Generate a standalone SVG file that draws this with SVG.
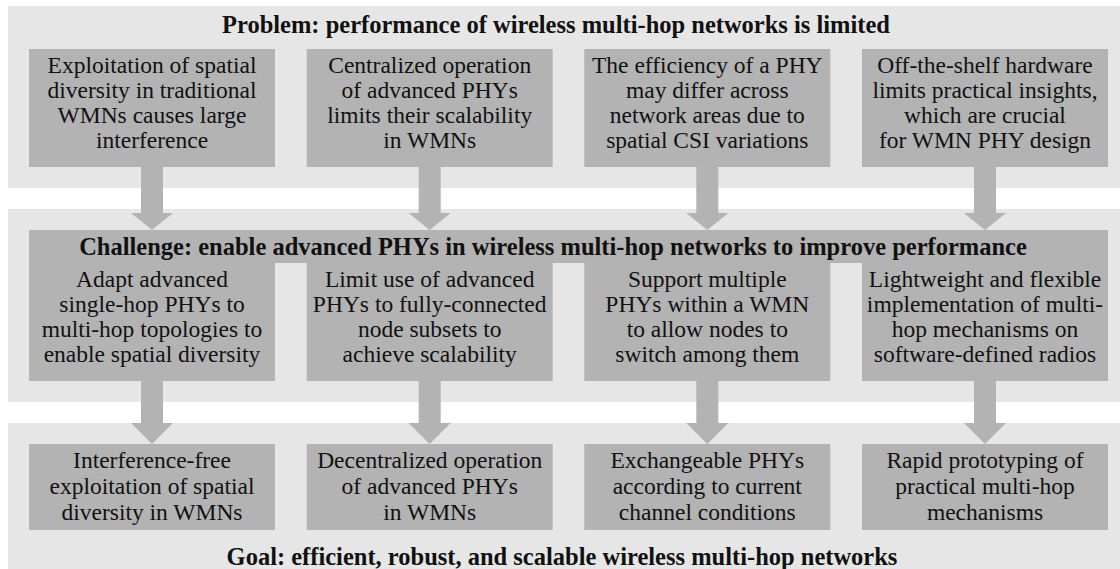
<svg xmlns="http://www.w3.org/2000/svg" width="1120" height="569" viewBox="0 0 1120 569">
<style>
.band{fill:#e6e6e6}
.box{fill:#b3b3b3}
.arr{fill:#b3b3b3}
.t{font-family:"Liberation Serif","Times New Roman",serif;font-size:23.5px;fill:#111;text-anchor:middle}
.h{font-family:"Liberation Serif","Times New Roman",serif;font-size:24.5px;font-weight:bold;fill:#111;text-anchor:middle}
</style>
<rect width="1120" height="569" fill="#ffffff"/>
<g id="bands">
<rect class="band" x="8" y="6" width="1112" height="182"/>
<rect class="band" x="8" y="209" width="1112" height="193"/>
<rect class="band" x="8" y="423" width="1112" height="146"/>
</g>
<g id="connectors">
<polygon class="arr" points="141,167 163,167 163,213 173,213 152,230 131,213 141,213"/>
<polygon class="arr" points="418.7,167 440.7,167 440.7,213 450.7,213 429.7,230 408.7,213 418.7,213"/>
<polygon class="arr" points="696.3,167 718.3,167 718.3,213 728.3,213 707.3,230 686.3,213 696.3,213"/>
<polygon class="arr" points="974,167 996,167 996,213 1006,213 985,230 964,213 974,213"/>
<polygon class="arr" points="141,381 163,381 163,423 173,423 152,444 131,423 141,423"/>
<polygon class="arr" points="418.7,381 440.7,381 440.7,423 450.7,423 429.7,444 408.7,423 418.7,423"/>
<polygon class="arr" points="696.3,381 718.3,381 718.3,423 728.3,423 707.3,444 686.3,423 696.3,423"/>
<polygon class="arr" points="974,381 996,381 996,423 1006,423 985,444 964,423 974,423"/>
</g>
<g id="problem-title"><text class="h" x="556" y="33">Problem: performance of wireless multi-hop networks is limited</text></g>
<g id="p1"><rect class="box" x="29" y="49" width="246" height="118"/>
<text class="t" x="152" y="73">Exploitation of spatial</text>
<text class="t" x="152" y="98">diversity in traditional</text>
<text class="t" x="152" y="123">WMNs causes large</text>
<text class="t" x="152" y="148">interference</text></g>
<g id="p2"><rect class="box" x="306.7" y="49" width="246" height="118"/>
<text class="t" x="429.7" y="73">Centralized operation</text>
<text class="t" x="429.7" y="98">of advanced PHYs</text>
<text class="t" x="429.7" y="123">limits their scalability</text>
<text class="t" x="429.7" y="148">in WMNs</text></g>
<g id="p3"><rect class="box" x="584.3" y="49" width="246" height="118"/>
<text class="t" x="707.3" y="73">The efficiency of a PHY</text>
<text class="t" x="707.3" y="98">may differ across</text>
<text class="t" x="707.3" y="123">network areas due to</text>
<text class="t" x="707.3" y="148">spatial CSI variations</text></g>
<g id="p4"><rect class="box" x="862" y="49" width="246" height="118"/>
<text class="t" x="985" y="73">Off-the-shelf hardware</text>
<text class="t" x="985" y="98">limits practical insights,</text>
<text class="t" x="985" y="123">which are crucial</text>
<text class="t" x="985" y="148">for WMN PHY design</text></g>
<g id="challenge-title"><rect class="box" x="29" y="230" width="1079" height="33"/>
<text class="h" x="553" y="255">Challenge: enable advanced PHYs in wireless multi-hop networks to improve performance</text></g>
<g id="c1"><rect class="box" x="29" y="262" width="246" height="119"/>
<text class="t" x="152" y="287">Adapt advanced</text>
<text class="t" x="152" y="312">single-hop PHYs to</text>
<text class="t" x="152" y="337">multi-hop topologies to</text>
<text class="t" x="152" y="362">enable spatial diversity</text></g>
<g id="c2"><rect class="box" x="306.7" y="262" width="246" height="119"/>
<text class="t" x="429.7" y="287">Limit use of advanced</text>
<text class="t" x="429.7" y="312">PHYs to fully-connected</text>
<text class="t" x="429.7" y="337">node subsets to</text>
<text class="t" x="429.7" y="362">achieve scalability</text></g>
<g id="c3"><rect class="box" x="584.3" y="262" width="246" height="119"/>
<text class="t" x="707.3" y="287">Support multiple</text>
<text class="t" x="707.3" y="312">PHYs within a WMN</text>
<text class="t" x="707.3" y="337">to allow nodes to</text>
<text class="t" x="707.3" y="362">switch among them</text></g>
<g id="c4"><rect class="box" x="862" y="262" width="246" height="119"/>
<text class="t" x="985" y="287">Lightweight and flexible</text>
<text class="t" x="985" y="312">implementation of multi-</text>
<text class="t" x="985" y="337">hop mechanisms on</text>
<text class="t" x="985" y="362">software-defined radios</text></g>
<g id="g1"><rect class="box" x="29" y="444" width="246" height="86"/>
<text class="t" x="152" y="468">Interference-free</text>
<text class="t" x="152" y="494">exploitation of spatial</text>
<text class="t" x="152" y="520">diversity in WMNs</text></g>
<g id="g2"><rect class="box" x="306.7" y="444" width="246" height="86"/>
<text class="t" x="429.7" y="468">Decentralized operation</text>
<text class="t" x="429.7" y="494">of advanced PHYs</text>
<text class="t" x="429.7" y="520">in WMNs</text></g>
<g id="g3"><rect class="box" x="584.3" y="444" width="246" height="86"/>
<text class="t" x="707.3" y="468">Exchangeable PHYs</text>
<text class="t" x="707.3" y="494">according to current</text>
<text class="t" x="707.3" y="520">channel conditions</text></g>
<g id="g4"><rect class="box" x="862" y="444" width="246" height="86"/>
<text class="t" x="985" y="468">Rapid prototyping of</text>
<text class="t" x="985" y="494">practical multi-hop</text>
<text class="t" x="985" y="520">mechanisms</text></g>
<g id="goal-title"><text class="h" x="562" y="565">Goal: efficient, robust, and scalable wireless multi-hop networks</text></g>
</svg>
